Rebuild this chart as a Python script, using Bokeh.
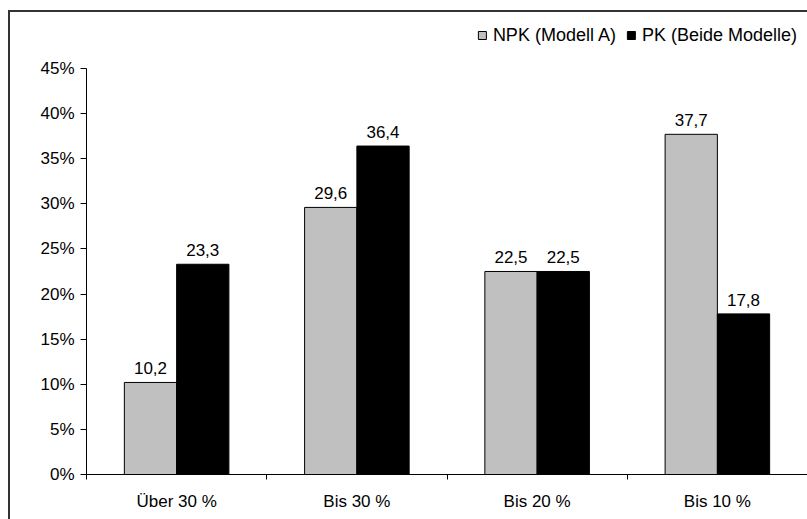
from bokeh.plotting import figure
from bokeh.models import (Range1d, FixedTicker, ColumnDataSource, Legend, LegendItem,
                          LabelSet)
from bokeh.core.properties import value
from bokeh.embed import file_html
from bokeh.resources import INLINE

categories = ["Über 30 %", "Bis 30 %", "Bis 20 %", "Bis 10 %"]
npk_values = [10.2, 29.6, 22.5, 37.7]
pk_values = [23.3, 36.4, 22.5, 17.8]
series_names = ["NPK (Modell A)", "PK (Beide Modelle)"]
y_ticks = [0, 5, 10, 15, 20, 25, 30, 35, 40, 45]

FONT = "Liberation Sans"
FS = "17px"

W, H = 807, 519
p = figure(width=W, height=H, output_backend="svg", toolbar_location=None,
           x_range=Range1d(0, 4), y_range=Range1d(0, 51.2),
           min_border_left=86, min_border_right=0, min_border_top=12, min_border_bottom=45)
p.xgrid.visible = False
p.ygrid.visible = False
p.outline_line_color = None
p.background_fill_color = "white"
p.border_fill_color = "white"

# outer chart border (only top and left edge visible, the chart is clipped)
p.stylesheets = [":host { position: relative; }"
                 ":host::after { content: ''; position: absolute; left: 8px; top: 10px; "
                 "width: 820px; height: 530px; border-left: 2px solid #333333; "
                 "border-top: 2px solid #333333; pointer-events: none; z-index: 10; }"]

centers = [i + 0.5 for i in range(len(categories))]
off = 0.145
bw = 0.29
src_a = ColumnDataSource(dict(x=[c - off for c in centers], top=npk_values,
                              lab=[f"{v:.1f}".replace(".", ",") for v in npk_values]))
src_b = ColumnDataSource(dict(x=[c + off for c in centers], top=pk_values,
                              lab=[f"{v:.1f}".replace(".", ",") for v in pk_values]))
ra = p.vbar(x="x", top="top", bottom=0, width=bw, source=src_a,
            fill_color="#C0C0C0", line_color="#000000", line_width=1)
rb = p.vbar(x="x", top="top", bottom=0, width=bw, source=src_b,
            fill_color="#000000", line_color="#000000", line_width=1)

for src in (src_a, src_b):
    p.add_layout(LabelSet(x="x", y="top", text="lab", source=src, text_align="center",
                          text_baseline="bottom", y_offset=8, text_font=value(FONT),
                          text_font_size=value(FS), text_color="#000000"))

# y axis
ya = p.yaxis[0]
ya.ticker = FixedTicker(ticks=y_ticks, minor_ticks=[])
ya.major_label_overrides = {t: f"{t}%" for t in y_ticks}
ya.bounds = (0, 45)
ya.major_tick_in = 0
ya.major_tick_out = 6
ya.major_label_standoff = 6
ya.axis_line_color = "#000000"
ya.major_tick_line_color = "#000000"
ya.major_label_text_font = FONT
ya.major_label_text_font_size = FS
ya.major_label_text_color = "#000000"

# x axis
xa = p.xaxis[0]
xa.ticker = FixedTicker(ticks=centers, minor_ticks=[0, 1, 2, 3, 4])
xa.major_label_overrides = {c: categories[i] for i, c in enumerate(centers)}
xa.major_tick_line_color = None
xa.major_tick_in = 0
xa.major_tick_out = 0
xa.minor_tick_in = 0
xa.minor_tick_out = 5
xa.minor_tick_line_color = "#000000"
xa.major_label_standoff = 12
xa.axis_line_color = "#000000"
xa.major_label_text_font = FONT
xa.major_label_text_font_size = FS
xa.major_label_text_color = "#000000"

legend = Legend(items=[LegendItem(label=series_names[0], renderers=[ra]),
                       LegendItem(label=series_names[1], renderers=[rb])],
                location="top_right", orientation="horizontal",
                label_text_font=FONT, label_text_font_size="18px",
                label_text_color="#000000",
                glyph_width=10, glyph_height=10, label_standoff=6, spacing=10,
                label_height=26, padding=5, margin=10, border_line_color=None,
                background_fill_alpha=0)
p.add_layout(legend)

open("out.html", "w").write(file_html(p, INLINE))
